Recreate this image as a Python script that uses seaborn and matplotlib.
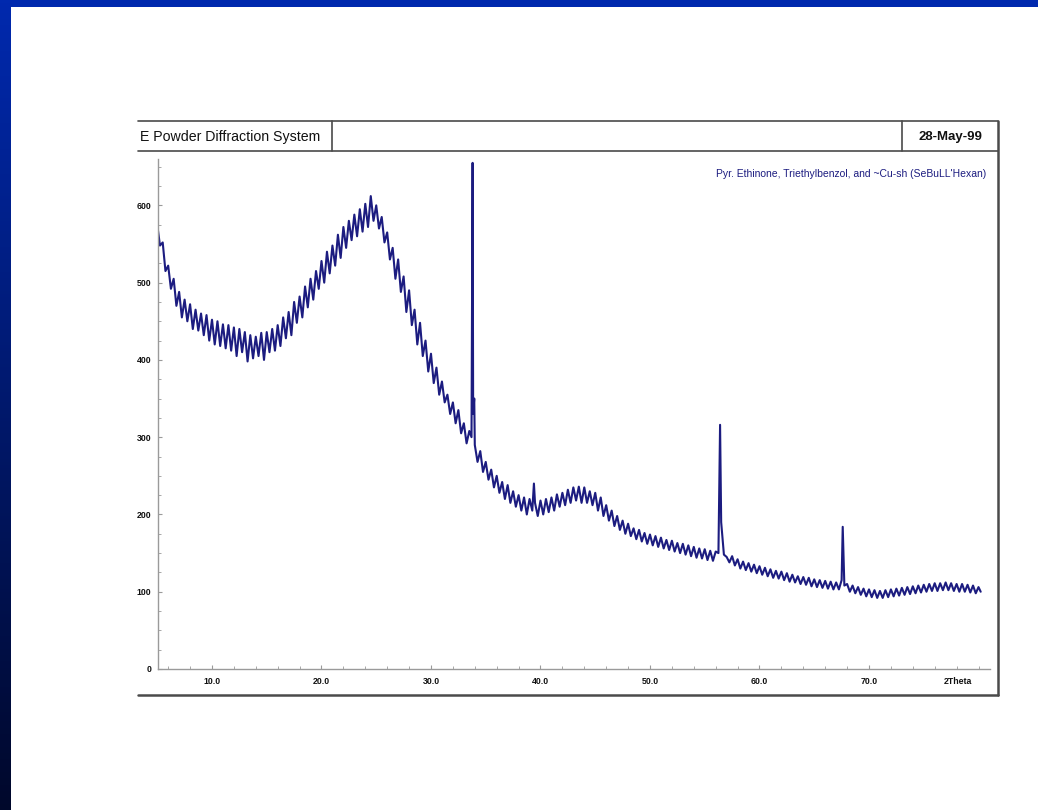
import numpy as np
import pandas as pd
import matplotlib
matplotlib.use("Agg")
import matplotlib.pyplot as plt
import matplotlib.patches as mpatches
from matplotlib.lines import Line2D
import seaborn as sns

# ---------------- data ----------------
two_theta = [
    5.00, 5.25, 5.50, 5.75, 6.00, 6.25, 6.50, 6.75, 7.00, 7.25, 7.50, 7.75, 8.00, 8.25, 8.50, 8.75, 9.00, 9.25, 9.50, 9.75,
    10.00, 10.25, 10.50, 10.75, 11.00, 11.25, 11.50, 11.75, 12.00, 12.25, 12.50, 12.75, 13.00, 13.25, 13.50, 13.75, 14.00, 14.25, 14.50, 14.75,
    15.00, 15.25, 15.50, 15.75, 16.00, 16.25, 16.50, 16.75, 17.00, 17.25, 17.50, 17.75, 18.00, 18.25, 18.50, 18.75, 19.00, 19.25, 19.50, 19.75,
    20.00, 20.25, 20.50, 20.75, 21.00, 21.25, 21.50, 21.75, 22.00, 22.25, 22.50, 22.75, 23.00, 23.25, 23.50, 23.75, 24.00, 24.25, 24.50, 24.75,
    25.00, 25.25, 25.50, 25.75, 26.00, 26.25, 26.50, 26.75, 27.00, 27.25, 27.50, 27.75, 28.00, 28.25, 28.50, 28.75, 29.00, 29.25, 29.50, 29.75,
    30.00, 30.25, 30.50, 30.75, 31.00, 31.25, 31.50, 31.75, 32.00, 32.25, 32.50, 32.75, 33.00, 33.25, 33.50, 33.70, 33.80, 33.85, 33.95, 34.00,
    34.25, 34.50, 34.75, 35.00, 35.25, 35.50, 35.75, 36.00, 36.25, 36.50, 36.75, 37.00, 37.25, 37.50, 37.75, 38.00, 38.25, 38.50, 38.75, 39.00,
    39.25, 39.40, 39.50, 39.75, 40.00, 40.25, 40.50, 40.75, 41.00, 41.25, 41.50, 41.75, 42.00, 42.25, 42.50, 42.75, 43.00, 43.25, 43.50, 43.75,
    44.00, 44.25, 44.50, 44.75, 45.00, 45.25, 45.50, 45.75, 46.00, 46.25, 46.50, 46.75, 47.00, 47.25, 47.50, 47.75, 48.00, 48.25, 48.50, 48.75,
    49.00, 49.25, 49.50, 49.75, 50.00, 50.25, 50.50, 50.75, 51.00, 51.25, 51.50, 51.75, 52.00, 52.25, 52.50, 52.75, 53.00, 53.25, 53.50, 53.75,
    54.00, 54.25, 54.50, 54.75, 55.00, 55.25, 55.50, 55.75, 56.00, 56.25, 56.40, 56.50, 56.75, 57.00, 57.25, 57.50, 57.75, 58.00, 58.25, 58.50,
    58.75, 59.00, 59.25, 59.50, 59.75, 60.00, 60.25, 60.50, 60.75, 61.00, 61.25, 61.50, 61.75, 62.00, 62.25, 62.50, 62.75, 63.00, 63.25, 63.50,
    63.75, 64.00, 64.25, 64.50, 64.75, 65.00, 65.25, 65.50, 65.75, 66.00, 66.25, 66.50, 66.75, 67.00, 67.25, 67.50, 67.60, 67.70, 67.75, 68.00,
    68.25, 68.50, 68.75, 69.00, 69.25, 69.50, 69.75, 70.00, 70.25, 70.50, 70.75, 71.00, 71.25, 71.50, 71.75, 72.00, 72.25, 72.50, 72.75, 73.00,
    73.25, 73.50, 73.75, 74.00, 74.25, 74.50, 74.75, 75.00, 75.25, 75.50, 75.75, 76.00, 76.25, 76.50, 76.75, 77.00, 77.25, 77.50, 77.75, 78.00,
    78.25, 78.50, 78.75, 79.00, 79.25, 79.50, 79.75, 80.00, 80.20,
]
counts = [
    575, 548, 552, 515, 522, 492, 505, 470, 488, 455, 478, 450, 472, 440, 465, 438, 460, 432, 458, 425,
    452, 420, 450, 418, 446, 415, 445, 412, 442, 405, 440, 410, 436, 398, 432, 402, 430, 405, 435, 400,
    436, 410, 440, 412, 445, 418, 455, 428, 462, 432, 475, 448, 482, 455, 495, 468, 505, 478, 515, 492,
    528, 500, 540, 512, 548, 522, 562, 532, 572, 545, 580, 555, 588, 560, 595, 566, 602, 572, 612, 580,
    600, 570, 585, 552, 565, 530, 545, 505, 530, 488, 508, 462, 490, 445, 465, 420, 448, 405, 425, 385,
    408, 370, 390, 355, 372, 345, 355, 330, 345, 318, 335, 305, 318, 292, 308, 300, 655, 330, 350, 290,
    268, 282, 255, 268, 245, 258, 235, 250, 228, 242, 220, 238, 215, 230, 210, 225, 205, 222, 200, 220,
    205, 240, 215, 198, 218, 200, 220, 203, 222, 205, 226, 210, 228, 212, 232, 215, 235, 218, 236, 215,
    235, 215, 230, 212, 228, 205, 222, 198, 212, 192, 205, 185, 198, 180, 192, 175, 188, 172, 182, 168,
    180, 165, 176, 162, 174, 160, 172, 158, 170, 156, 167, 154, 166, 152, 163, 150, 162, 148, 160, 146,
    158, 144, 156, 143, 155, 141, 153, 140, 152, 150, 316, 190, 148, 145, 138, 146, 134, 142, 130, 139,
    128, 137, 126, 135, 124, 133, 122, 131, 120, 129, 118, 127, 117, 126, 115, 124, 113, 122, 112, 120,
    110, 119, 109, 118, 107, 116, 106, 115, 105, 114, 104, 113, 103, 112, 103, 115, 184, 130, 108, 110,
    100, 108, 98, 106, 96, 104, 94, 103, 93, 102, 92, 101, 92, 102, 93, 103, 94, 104, 95, 105,
    96, 106, 97, 107, 98, 108, 99, 109, 100, 110, 101, 111, 101, 111, 102, 112, 102, 111, 101, 110,
    100, 110, 100, 109, 99, 108, 98, 106, 100,
]
x_ticks = [10.0, 20.0, 30.0, 40.0, 50.0, 60.0, 70.0]
x_tick_labels = ["10.0", "20.0", "30.0", "40.0", "50.0", "60.0", "70.0"]
y_ticks = [0, 100, 200, 300, 400, 500, 600]
y_tick_labels = ["0", "100", "200", "300", "400", "500", "600"]
header_left = "E Powder Diffraction System"
header_date = "28-May-99"
legend_text = "Pyr. Ethinone, Triethylbenzol, and ~Cu-sh (SeBuLL'Hexan)"
x_axis_label = "2Theta"

df = pd.DataFrame({"two_theta": two_theta, "counts": counts})

# ---------------- figure ----------------
W, H = 1038, 810
sns.set_theme(style="white")
plt.rcParams["font.family"] = ["Liberation Sans", "DejaVu Sans"]
fig = plt.figure(figsize=(W / 100, H / 100), dpi=100)
fig.patch.set_facecolor("white")

def fx(px):
    return px / W

def fy(py):
    return 1 - py / H

# slide decoration: top blue bar and left gradient bar
fig.add_artist(mpatches.Rectangle((0, fy(7)), 1, 7 / H, transform=fig.transFigure,
                                  facecolor="#0029ae", edgecolor="none", zorder=0))
grad_ax = fig.add_axes([0, 0, fx(11), 1])
grad = np.linspace(0, 1, 256).reshape(-1, 1)
cmap = matplotlib.colors.LinearSegmentedColormap.from_list("slide", ["#0029ae", "#00082b"])
grad_ax.imshow(grad, aspect="auto", cmap=cmap, extent=[0, 1, 0, 1], origin="upper")
grad_ax.set_axis_off()

# chart frame
frame_c = "#4a4a4a"
def hline(py, x0, x1, lw=1.2, c=frame_c):
    fig.add_artist(Line2D([fx(x0), fx(x1)], [fy(py), fy(py)], transform=fig.transFigure, color=c, lw=lw))
def vline(px, y0, y1, lw=1.2, c=frame_c):
    fig.add_artist(Line2D([fx(px), fx(px)], [fy(y0), fy(y1)], transform=fig.transFigure, color=c, lw=lw))

hline(121, 138, 998)
hline(151, 138, 998)
hline(695, 138, 998, lw=1.8)
vline(998, 121, 695, lw=1.8)
vline(332, 121, 151)
vline(902, 121, 151)
fig.text(fx(140), fy(137), header_left, fontsize=10.2, color="#111111", va="center", ha="left")
fig.text(fx(950), fy(137), header_date, fontsize=9.5, fontweight="bold", color="#111111",
         va="center", ha="center")

# ---------------- plot axes ----------------
ax = fig.add_axes([fx(158), fy(669), fx(990) - fx(158), fy(159) - fy(669)])
ax.set_facecolor("none")
sns.lineplot(data=df, x="two_theta", y="counts", ax=ax, color="#1c1c80", linewidth=1.5,
             estimator=None, sort=False)
ax.set_xlim(5.07, 81.05)
ax.set_ylim(0, 660)
ax.set_xlabel("")
ax.set_ylabel("")
for s in ["top", "right"]:
    ax.spines[s].set_visible(False)
for s in ["left", "bottom"]:
    ax.spines[s].set_color("#9a9a9a")
    ax.spines[s].set_linewidth(1.0)
ax.set_xticks(x_ticks)
ax.set_xticklabels(x_tick_labels, fontweight="bold")
ax.set_yticks(y_ticks)
ax.set_yticklabels(y_tick_labels, fontweight="bold")
ax.set_xticks(np.arange(6, 81, 2), minor=True)
ax.set_yticks(np.arange(0, 661, 25), minor=True)
ax.tick_params(axis="both", which="both", direction="in", color="#9a9a9a", labelsize=6.3,
               labelcolor="#111111")
ax.tick_params(axis="both", which="major", length=3, width=0.8)
ax.tick_params(axis="both", which="minor", length=2, width=0.6)
ax.tick_params(axis="x", which="both", bottom=True, pad=6)
ax.tick_params(axis="y", which="both", left=True, pad=5)
ax.text(78.1, -16, x_axis_label, fontsize=6.3, fontweight="bold", color="#111111",
        ha="center", va="center")
ax.text(0.995, 0.98, legend_text, transform=ax.transAxes, fontsize=7.5, color="#1c1c80",
        ha="right", va="top")
ax.grid(False)

fig.savefig("out.png", dpi=100, facecolor="white")
